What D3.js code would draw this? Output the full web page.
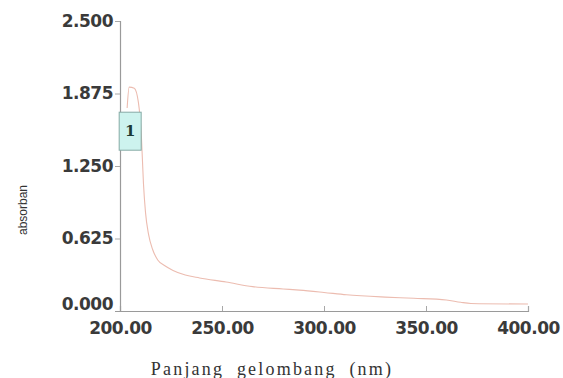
<!DOCTYPE html>
<html>
<head>
<meta charset="utf-8">
<script src="https://cdn.jsdelivr.net/npm/d3@7"></script>
<style>
  html, body { margin: 0; padding: 0; background: #fff; }
  svg { display: block; }
</style>
</head>
<body>
<div id="chart"></div>
<script>
// ---- Data ----
const wavelength = [203.5, 204.5, 207, 209, 210.5, 211.5, 212.5, 214, 216, 218.5, 222, 226, 232, 239, 252, 265, 280, 288, 300, 311, 330, 344, 360, 367, 372, 400];
const absorbance = [1.75, 1.93, 1.92, 1.80, 1.50, 1.10, 0.85, 0.66, 0.53, 0.44, 0.39, 0.35, 0.31, 0.285, 0.25, 0.21, 0.19, 0.18, 0.16, 0.14, 0.12, 0.11, 0.095, 0.075, 0.065, 0.06];
const xTicks = [200, 250, 300, 350, 400];
const yTicks = [0, 0.625, 1.25, 1.875, 2.5];
const peakLabel = '1';

const W = 563, H = 378;
const margin = { top: 21, right: 35, bottom: 67, left: 120 };

const svg = d3.select('#chart').append('svg')
  .attr('width', W).attr('height', H);

const x = d3.scaleLinear().domain([200, 400]).range([margin.left, W - margin.right]);
const y = d3.scaleLinear().domain([0, 2.5]).range([H - margin.bottom, margin.top]);

// ---- Axes ----
const yAxis = svg.append('g')
  .attr('transform', `translate(${margin.left},0)`)
  .call(d3.axisLeft(y).tickValues(yTicks).tickSize(5).tickPadding(2).tickFormat(d3.format('.3f')));

const xAxis = svg.append('g')
  .attr('transform', `translate(0,${y(0)})`)
  .call(d3.axisBottom(x).tickValues(xTicks).tickSize(-5).tickPadding(11).tickFormat(d3.format('.2f')));

[yAxis, xAxis].forEach(a => {
  a.select('.domain').attr('stroke', '#9a9a9a').attr('stroke-width', 1.2);
  a.selectAll('.tick line').attr('stroke', '#a8a8a8');
  a.selectAll('.tick text')
    .attr('fill', '#3a3a3a')
    .attr('font-family', 'DejaVu Sans, sans-serif')
    .attr('font-weight', 'bold')
    .attr('font-size', '17px')
    .attr('letter-spacing', '-0.5px');
});
xAxis.selectAll('.tick').filter(d => d === 200).select('line').remove();
// the 0.000 label sits just above the corner
yAxis.selectAll('.tick').filter(d => d === 0).select('text').attr('dy', '-0.1em');
yAxis.selectAll('.tick').filter(d => d === 0).select('line').remove();

// ---- Spectrum line ----
const pts = wavelength.map((w, i) => [w, absorbance[i]]);
svg.append('path')
  .datum(pts)
  .attr('fill', 'none')
  .attr('stroke', '#ecbcb0')
  .attr('stroke-width', 1.1)
  .attr('d', d3.line().x(d => x(d[0])).y(d => y(d[1])).curve(d3.curveMonotoneX));

// ---- Peak marker ----
const peakIdx = d3.maxIndex(absorbance);
const px = x(wavelength[peakIdx]) + 1;
const pg = svg.append('g').attr('transform', `translate(${px},${y(1.55)})`);
pg.append('rect')
  .attr('x', -11).attr('y', -19).attr('width', 22).attr('height', 38)
  .attr('fill', '#cdf3ee').attr('stroke', '#86aaa6').attr('stroke-width', 1);
pg.append('text')
  .attr('text-anchor', 'middle').attr('dy', '0.35em')
  .attr('font-family', 'DejaVu Serif, serif').attr('font-weight', 'bold')
  .attr('font-size', '15px').attr('fill', '#1d3b36')
  .text(peakLabel);

// ---- Axis titles ----
svg.append('text')
  .attr('transform', `translate(27,${210}) rotate(-90)`)
  .attr('text-anchor', 'middle')
  .attr('font-family', 'Liberation Sans Narrow, Liberation Sans, Arial, sans-serif')
  .attr('font-size', '13px').attr('fill', '#333')
  .attr('textLength', 50).attr('lengthAdjust', 'spacingAndGlyphs')
  .text('absorban');

svg.append('text')
  .attr('x', 272).attr('y', 375)
  .attr('text-anchor', 'middle')
  .attr('font-family', 'Liberation Serif, Times New Roman, serif')
  .attr('font-size', '18px').attr('fill', '#333')
  .attr('letter-spacing', '2.2px').attr('word-spacing', '6px')
  .text('Panjang gelombang (nm)');
</script>
</body>
</html>
